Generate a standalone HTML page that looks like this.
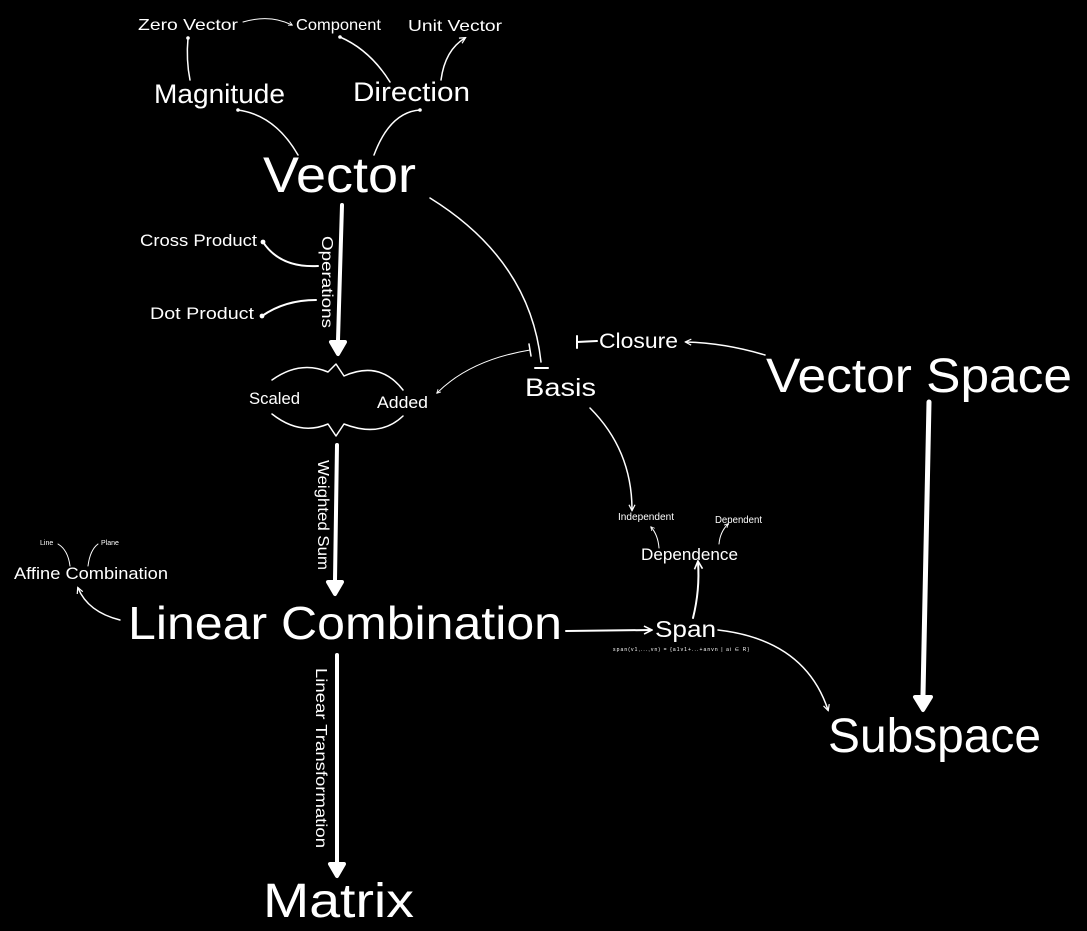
<!DOCTYPE html>
<html><head><meta charset="utf-8"><style>
html,body{margin:0;padding:0;background:#000;}
svg{display:block;}
text{fill:#fff;font-family:"Liberation Sans",sans-serif;}
.l{fill:none;stroke:#fff;stroke-linecap:round;stroke-linejoin:round;}
</style></head><body>
<svg width="1087" height="931" viewBox="0 0 1087 931">
<defs>
<marker id="ah" viewBox="0 0 10 10" refX="8" refY="5" markerWidth="5" markerHeight="5" orient="auto"><path d="M1,1 L9,5 L1,9" fill="none" stroke="#fff" stroke-width="1.6"/></marker>
<marker id="dot" viewBox="0 0 10 10" refX="5" refY="5" markerWidth="3" markerHeight="3"><circle cx="5" cy="5" r="4" fill="#fff"/></marker>
</defs>
<g lengthAdjust="spacingAndGlyphs">
<text x="138" y="30" font-size="16" textLength="100" lengthAdjust="spacingAndGlyphs">Zero Vector</text>
<text x="296" y="30" font-size="16" textLength="85" lengthAdjust="spacingAndGlyphs">Component</text>
<text x="408" y="31" font-size="16" textLength="94" lengthAdjust="spacingAndGlyphs">Unit Vector</text>
<text x="154" y="103" font-size="27" textLength="131" lengthAdjust="spacingAndGlyphs">Magnitude</text>
<text x="353" y="101" font-size="27" textLength="117" lengthAdjust="spacingAndGlyphs">Direction</text>
<text x="263" y="192" font-size="50" textLength="153" lengthAdjust="spacingAndGlyphs">Vector</text>
<text x="140" y="246" font-size="17" textLength="117" lengthAdjust="spacingAndGlyphs">Cross Product</text>
<text x="150" y="319" font-size="17" textLength="104" lengthAdjust="spacingAndGlyphs">Dot Product</text>
<text transform="translate(322,236) rotate(90)" font-size="16" textLength="92" lengthAdjust="spacingAndGlyphs">Operations</text>
<text x="249" y="404" font-size="17" textLength="51" lengthAdjust="spacingAndGlyphs">Scaled</text>
<text x="377" y="408" font-size="17" textLength="51" lengthAdjust="spacingAndGlyphs">Added</text>
<text x="525" y="396" font-size="25" textLength="71" lengthAdjust="spacingAndGlyphs">Basis</text>
<text x="599" y="348" font-size="21" textLength="79" lengthAdjust="spacingAndGlyphs">Closure</text>
<text x="766" y="392" font-size="48" textLength="306" lengthAdjust="spacingAndGlyphs">Vector Space</text>
<text transform="translate(318,460) rotate(90)" font-size="16" textLength="110" lengthAdjust="spacingAndGlyphs">Weighted Sum</text>
<text x="618" y="520" font-size="10" textLength="56" lengthAdjust="spacingAndGlyphs">Independent</text>
<text x="715" y="523" font-size="10" textLength="47" lengthAdjust="spacingAndGlyphs">Dependent</text>
<text x="641" y="560" font-size="17" textLength="97" lengthAdjust="spacingAndGlyphs">Dependence</text>
<text x="40" y="545" font-size="7">Line</text>
<text x="101" y="545" font-size="7">Plane</text>
<text x="14" y="579" font-size="17" textLength="154" lengthAdjust="spacingAndGlyphs">Affine Combination</text>
<text x="128" y="639" font-size="46" textLength="434" lengthAdjust="spacingAndGlyphs">Linear Combination</text>
<text x="655" y="637" font-size="23" textLength="61" lengthAdjust="spacingAndGlyphs">Span</text>
<text x="613" y="651" font-size="5" textLength="136" fill="#aaa">span(v1,...,vn) = {a1v1+...+anvn | ai ∈ R}</text>
<text x="828" y="752" font-size="48" textLength="213" lengthAdjust="spacingAndGlyphs">Subspace</text>
<text transform="translate(316,668) rotate(90)" font-size="16" textLength="180" lengthAdjust="spacingAndGlyphs">Linear Transformation</text>
<text x="263" y="917" font-size="48" textLength="151" lengthAdjust="spacingAndGlyphs">Matrix</text>
</g>
<g>
<path class="l" stroke-width="1.5" marker-end="url(#dot)" d="M190,80 Q186,60 188,38"/>
<path class="l" stroke-width="1" marker-end="url(#ah)" d="M243,22 Q270,14 292,25"/>
<path class="l" stroke-width="1.5" marker-end="url(#dot)" d="M390,82 Q370,50 340,37"/>
<path class="l" stroke-width="1.5" marker-end="url(#ah)" d="M441,80 Q445,50 465,38"/>
<path class="l" stroke-width="1.5" marker-end="url(#dot)" d="M298,155 Q275,115 238,110"/>
<path class="l" stroke-width="1.5" marker-end="url(#dot)" d="M374,155 Q390,112 420,110"/>
<path class="l" stroke-width="4" d="M342,205 L338,340"/>
<path d="M331,342 L345,342 L338,354 Z" fill="#fff" stroke="#fff" stroke-width="4" stroke-linejoin="round"/>
<path class="l" stroke-width="2" marker-end="url(#dot)" d="M318,266 Q280,268 263,242"/>
<path class="l" stroke-width="2" marker-end="url(#dot)" d="M316,300 Q285,300 262,316"/>
<path class="l" stroke-width="1.5" d="M272,380 Q300,360 328,372 L336,364 L344,376 Q380,360 403,390"/>
<path class="l" stroke-width="1.5" d="M272,414 Q300,436 328,424 L336,436 L344,424 Q380,438 403,416"/>
<path class="l" stroke-width="1.5" d="M430,198 Q530,260 541,362"/>
<path class="l" stroke-width="2" d="M535,368 L548,368"/>
<path class="l" stroke-width="2" d="M597,341 L577,342 M577,336 L577,348"/>
<path class="l" stroke-width="1" stroke="#999" marker-end="url(#ah)" d="M530,350 Q470,360 437,393"/>
<path class="l" stroke-width="1.5" d="M529,344 L531,356"/>
<path class="l" stroke-width="1.5" marker-end="url(#ah)" d="M765,355 Q725,343 686,342"/>
<path class="l" stroke-width="1.5" marker-end="url(#ah)" d="M590,408 Q632,450 632,510"/>
<path class="l" stroke-width="1" marker-end="url(#ah)" d="M659,548 Q658,535 651,527"/>
<path class="l" stroke-width="1" marker-end="url(#ah)" d="M719,544 Q720,532 728,524"/>
<path class="l" stroke-width="4" d="M337,445 L335,580"/>
<path d="M328,582 L342,582 L335,594 Z" fill="#fff" stroke="#fff" stroke-width="4" stroke-linejoin="round"/>
<path class="l" stroke-width="4" d="M337,655 L337,862"/>
<path d="M330,864 L344,864 L337,876 Z" fill="#fff" stroke="#fff" stroke-width="4" stroke-linejoin="round"/>
<path class="l" stroke-width="5" d="M929,402 L923,695"/>
<path d="M915,697 L931,697 L923,710 Z" fill="#fff" stroke="#fff" stroke-width="4" stroke-linejoin="round"/>
<path class="l" stroke-width="2" marker-end="url(#ah)" d="M566,631 L651,630"/>
<path class="l" stroke-width="2" marker-end="url(#ah)" d="M693,618 Q700,590 698,562"/>
<path class="l" stroke-width="1.5" marker-end="url(#ah)" d="M718,630 Q805,640 828,710"/>
<path class="l" stroke-width="1.5" marker-end="url(#ah)" d="M120,620 Q88,612 78,588"/>
<path class="l" stroke-width="1" d="M70,566 Q68,550 58,544"/>
<path class="l" stroke-width="1" d="M88,566 Q90,550 98,544"/>
</g>
</svg>
</body></html>
